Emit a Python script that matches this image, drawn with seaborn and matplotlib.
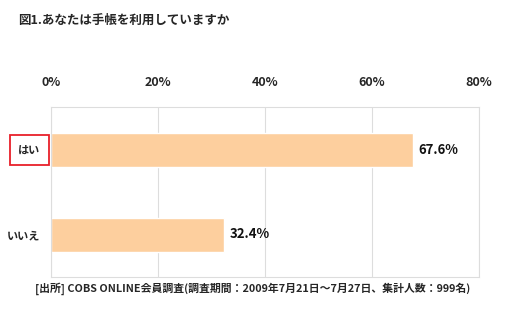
import matplotlib
matplotlib.use("Agg")
import matplotlib.pyplot as plt
import seaborn as sns
import pandas as pd
from matplotlib.patches import Rectangle

categories = ["はい", "いいえ"]
values = [67.6, 32.4]
ticks = [0, 20, 40, 60, 80]
tick_labels = ["0%", "20%", "40%", "60%", "80%"]
title = "図1.あなたは手帳を利用していますか"
source = "[出所] COBS ONLINE会員調査(調査期間：2009年7月21日～7月27日、集計人数：999名)"

sns.set_theme(style="white")
plt.rcParams['font.family'] = ['Noto Sans CJK JP', 'DejaVu Sans']

df = pd.DataFrame({"cat": categories, "val": values})

fig = plt.figure(figsize=(5.05, 3.14), dpi=100)
ax = fig.add_axes([51/505, 1-277/314, (479-51)/505, (277-107)/314])
sns.barplot(data=df, x="val", y="cat", ax=ax, color="#FDCF9E", width=0.4,
            saturation=1, orient="h")
ax.set_xlim(0, 80)
ax.set_ylim(1.5, -0.5)
ax.set_xticks(ticks)
ax.set_xticklabels(tick_labels, fontsize=9, fontweight="bold", style="italic")
ax.xaxis.tick_top()
ax.tick_params(axis="x", length=0, pad=13)
ax.tick_params(axis="y", length=0, pad=8)
ax.set_yticklabels(categories, fontsize=8, fontweight="bold")
ax.set_xlabel("")
ax.set_ylabel("")
ax.grid(axis="x", color="#dddddd", linewidth=0.8)
ax.set_axisbelow(True)
for s in ax.spines.values():
    s.set_color("#dddddd")
    s.set_linewidth(0.8)

for i, v in enumerate(values):
    ax.text(v + 1, i, f"{v:.1f}%", va="center", ha="left", fontsize=9.5,
            fontweight="bold", style="italic", color="#111111")

# red highlight box around first category
fig.patches.append(Rectangle((10/505, 1-165/314), 39/505, 30/314,
                             transform=fig.transFigure, fill=False,
                             edgecolor="#e8202a", linewidth=1.3))

fig.text(18/505, 1-20/314, title, fontsize=9, fontweight="bold",
         va="center", ha="left")
fig.text(253/505, 1-289/314, source, fontsize=7.8, fontweight="bold",
         va="center", ha="center", style="italic")

fig.savefig("out.png", dpi=100, facecolor="white")
